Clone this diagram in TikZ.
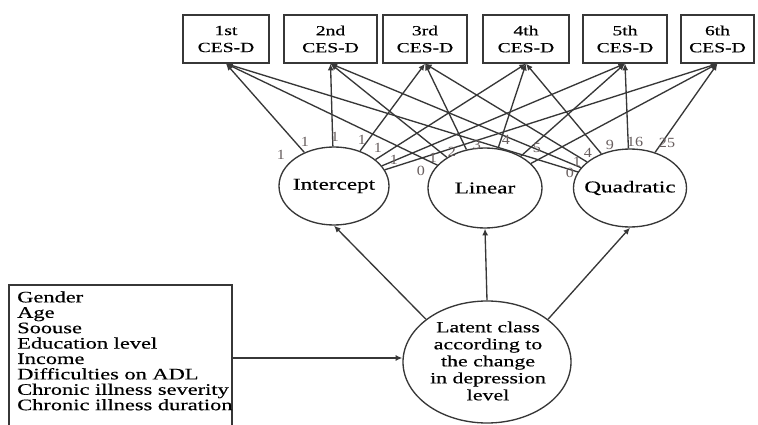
\documentclass[tikz,border=0pt]{standalone}
\usepackage{fontspec}
\setmainfont{Liberation Serif}
\newfontfamily\wfont[FakeStretch=1.4,FakeBold=0.4]{Liberation Serif}
\newfontfamily\nfont[FakeStretch=1.15]{Liberation Serif}
\usetikzlibrary{arrows.meta,shapes.geometric}
\definecolor{linec}{RGB}{55,55,55}
\definecolor{labc}{RGB}{105,95,95}
\begin{document}
\begin{tikzpicture}[x=0.75pt,y=-0.75pt,
  ln/.style={draw=linec,line width=1pt},
  arr/.style={ln,-{Latex[length=5pt,width=4.5pt]}},
  obs/.style={draw=linec,line width=1pt,inner sep=0pt,minimum height=36pt,align=center,
    font=\wfont\fontsize{10.5pt}{12.75pt}\selectfont},
  fac/.style={ellipse,draw=linec,line width=1pt,inner sep=0pt},
  ftxt/.style={inner sep=0pt,font=\wfont\fontsize{12.4pt}{14pt}\selectfont},
  lab/.style={text=labc,inner sep=0pt,font=\nfont\fontsize{10.5pt}{11pt}\selectfont}
]
\useasboundingbox (0,0) rectangle (758,425);
\fill[white] (0,0) rectangle (758,425);

% observed CES-D boxes
\node[obs,minimum width=64.5pt]  (b1) at (226,39)   {1st\\CES-D};
\node[obs,minimum width=69.75pt] (b2) at (330.5,39) {2nd\\CES-D};
\node[obs,minimum width=63pt]    (b3) at (425,39)   {3rd\\CES-D};
\node[obs,minimum width=64.5pt]  (b4) at (526,39)   {4th\\CES-D};
\node[obs,minimum width=63pt]    (b5) at (625,39)   {5th\\CES-D};
\node[obs,minimum width=54.75pt] (b6) at (717.5,39) {6th\\CES-D};

% growth factors
\node[fac,minimum width=82.5pt,minimum height=58.5pt] (ic) at (334,186) {};
\node[fac,minimum width=85.5pt,minimum height=60pt]   (li) at (485,188) {};
\node[fac,minimum width=84.75pt,minimum height=58.5pt] (qu) at (630,188) {};
\node[ftxt] (ict) at (ic) {Intercept};
\node[ftxt] (lit) at (li) {Linear};
\node[ftxt] (qut) at (qu) {Quadratic};

% latent class
\node[fac,minimum width=126pt,minimum height=91.5pt] (lt) at (487,362) {};
\node[align=center,inner sep=0pt,font=\wfont\fontsize{11.7pt}{12.75pt}\selectfont] (ltt) at (488,361)
  {Latent class\\according to\\the change\\in depression\\level};

% loadings
\foreach \f in {ic,li,qu}{
  \foreach \b in {b1,b2,b3,b4,b5,b6}{
    \draw[arr] (\f) -- (\b.south);
  }
}

% loading labels
\node[lab] (i1) at (281,155) {1};
\node[lab] (i2) at (305,142) {1};
\node[lab] (i3) at (335,137) {1};
\node[lab] (i4) at (362,140) {1};
\node[lab] (i5) at (378,148) {1};
\node[lab] (i6) at (394,160) {1};
\node[lab] (l1) at (421,171) {0};
\node[lab] (l2) at (433,158) {1};
\node[lab] (l3) at (452,152) {2};
\node[lab] (l4) at (477,145) {3};
\node[lab] (l5) at (506,140) {4};
\node[lab] (l6) at (537,148) {5};
\node[lab] (q1) at (570,173) {0};
\node[lab] (q2) at (577,162) {1};
\node[lab] (q3) at (588,153) {4};
\node[lab] (q4) at (610,145) {9};
\node[lab] (q5) at (635,142) {16};
\node[lab] (q6) at (667,143) {25};

% latent to growth factors
\draw[arr] (lt.145) -- (ic.south);
\draw[arr] (lt.north) -- (li.south);
\draw[arr] (lt.35) -- (qu.south);

% covariate box
\draw[ln] (232,425) -- (232,285) -- (9,285) -- (9,425);
\node[anchor=north west,align=left,inner sep=0pt,font=\wfont\fontsize{12pt}{11.55pt}\selectfont] (cov) at (17,291)
  {Gender\\Age\\Soouse\\Education level\\Income\\Difficulties on ADL\\Chronic illness severity\\Chronic illness duration};
\coordinate (bx) at (232,358);
\draw[arr] (bx) -- (bx -| lt.west);
\end{tikzpicture}
\end{document}
